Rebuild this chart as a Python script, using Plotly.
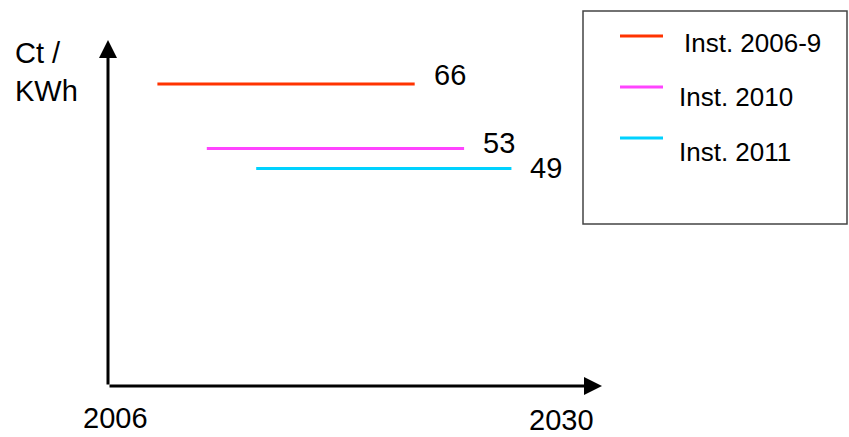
import plotly.graph_objects as go

# Feed-in tariff per installation year (Ct/KWh) and the span it is paid over
series_names = ["Inst. 2006-9", "Inst. 2010", "Inst. 2011"]
tariffs = [66, 53, 49]
start_years = [2008.4, 2010.8, 2013.2]
end_years = [2020.9, 2023.3, 2025.6]
colors = ["#FF3300", "#FF44FF", "#00D2FF"]

x_range = [2006, 2030]
y_range = [5.2, 74.85]
x_tick_labels = ["2006", "2030"]

W, H = 849, 437
ML, MR, MT, MB = 108, 247, 40, 51
PW, PH = W - ML - MR, H - MT - MB

FONT = "Liberation Sans, Arial, sans-serif"


def px_x(px):
    return (px - ML) / PW


def px_y(py):
    return (H - MB - py) / PH


fig = go.Figure()

label_shift = [9, 6, 0]
annotations = []
for name, v, x0, x1, c, dy in zip(series_names, tariffs, start_years, end_years, colors, label_shift):
    fig.add_trace(go.Scatter(
        x=[x0, x1], y=[v, v], mode="lines", name=name,
        line=dict(color=c, width=3), showlegend=False, hoverinfo="name+y",
    ))
    annotations.append(dict(
        x=x1, y=v, xref="x", yref="y", text=str(v), showarrow=False,
        xanchor="left", yanchor="middle", xshift=17, yshift=dy,
        font=dict(family=FONT, size=29, color="black"),
    ))

# Axis arrows
annotations.append(dict(
    x=x_range[1], y=y_range[0], ax=x_range[0], ay=y_range[0],
    xref="x", yref="y", axref="x", ayref="y", text="", showarrow=True,
    arrowhead=2, arrowsize=1.2, arrowwidth=3, arrowcolor="black", standoff=0,
))
annotations.append(dict(
    x=x_range[0], y=y_range[1], ax=x_range[0], ay=y_range[0],
    xref="x", yref="y", axref="x", ayref="y", text="", showarrow=True,
    arrowhead=2, arrowsize=1.2, arrowwidth=3, arrowcolor="black", standoff=0,
))

# Axis end labels
annotations.append(dict(
    x=px_x(115), y=px_y(418), xref="paper", yref="paper", text=x_tick_labels[0],
    showarrow=False, xanchor="center", yanchor="middle",
    font=dict(family=FONT, size=29, color="black"),
))
annotations.append(dict(
    x=px_x(561), y=px_y(420), xref="paper", yref="paper", text=x_tick_labels[1],
    showarrow=False, xanchor="center", yanchor="middle", borderpad=0,
    font=dict(family=FONT, size=29, color="black"),
))

# Unit label
annotations.append(dict(
    x=px_x(13), y=px_y(72), xref="paper", yref="paper", text="Ct /<br>KWh",
    showarrow=False, xanchor="left", yanchor="middle", align="left",
    font=dict(family=FONT, size=29, color="black"),
))

# Legend box
shapes = [dict(
    type="rect", xref="paper", yref="paper",
    x0=px_x(583), x1=px_x(847), y0=px_y(224), y1=px_y(11),
    line=dict(color="#444444", width=1.5), fillcolor="white", layer="below",
)]
sample_y = [36, 87, 138]
text_y = [43, 97, 152]
text_x = [682, 677, 677]
for name, c, sy, ty, tx in zip(series_names, colors, sample_y, text_y, text_x):
    shapes.append(dict(
        type="line", xref="paper", yref="paper",
        x0=px_x(620), x1=px_x(663), y0=px_y(sy), y1=px_y(sy),
        line=dict(color=c, width=3),
    ))
    annotations.append(dict(
        x=px_x(tx), y=px_y(ty), xref="paper", yref="paper", text=name,
        showarrow=False, xanchor="left", yanchor="middle",
        font=dict(family=FONT, size=26, color="black"),
    ))

fig.update_layout(
    width=W, height=H,
    margin=dict(l=ML, r=MR, t=MT, b=MB),
    paper_bgcolor="white", plot_bgcolor="white",
    xaxis=dict(range=x_range, visible=False),
    yaxis=dict(range=y_range, visible=False),
    annotations=annotations, shapes=shapes,
    showlegend=False,
)

fig.write_html("out.html")
